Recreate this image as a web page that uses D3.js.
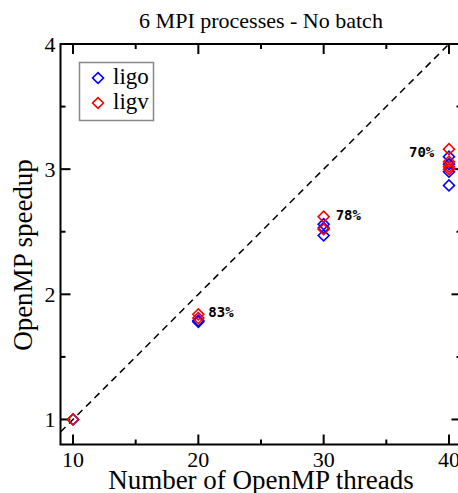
<!DOCTYPE html>
<html lang="en">
  <head>
    <meta charset="utf-8">
    <title>6 MPI processes - No batch</title>
    <script type="text/javascript" src="https://d3js.org/d3.v7.min.js" charset="utf-8"></script>
    <style type="text/css">
      body { margin: 0; background: white; }
      text { font-family: "Liberation Serif", "Times New Roman", serif; fill: black; }
      .pct { font-family: "DejaVu Sans Mono", monospace; font-weight: bold; font-size: 14px; }
    </style>
  </head>
  <body>
<script type="text/javascript">

// data
var threads = [10, 20, 30, 40];
var ligo = [
  {x: 10, y: 1.0},
  {x: 20, y: 1.78}, {x: 20, y: 1.79},
  {x: 30, y: 2.47}, {x: 30, y: 2.53}, {x: 30, y: 2.56},
  {x: 40, y: 2.87}, {x: 40, y: 2.98}, {x: 40, y: 3.04}, {x: 40, y: 3.10}
];
var ligv = [
  {x: 10, y: 1.0},
  {x: 20, y: 1.81}, {x: 20, y: 1.84},
  {x: 30, y: 2.52}, {x: 30, y: 2.62},
  {x: 40, y: 3.0}, {x: 40, y: 3.02}, {x: 40, y: 3.06}, {x: 40, y: 3.16}
];
var efficiency = [
  {x: 20, y: 1.84, label: "83%"},
  {x: 30, y: 2.62, label: "78%"},
  {x: 40, y: 3.16, label: "70%"}
];
var ideal = [{x: 9, y: 0.9}, {x: 40, y: 4}];
var xTicks = [10, 20, 30, 40];
var yTicks = [1, 2, 3, 4];

var W = 458, H = 493;
var m = {left: 60.5, right: 461.5, top: 44, bottom: 444.5};

var svg = d3.select("body").append("svg")
    .attr("width", W)
    .attr("height", H);

var x = d3.scaleLinear().domain([9, 41]).range([m.left, m.right]);
var y = d3.scaleLinear().domain([0.8, 4]).range([m.bottom, m.top]);

// ideal speedup line
svg.append("path")
    .datum(ideal)
    .attr("d", d3.line().x(d => x(d.x)).y(d => y(d.y)))
    .attr("fill", "none")
    .attr("stroke", "black")
    .attr("stroke-width", 1.5)
    .attr("stroke-dasharray", "7,5");

// ticks on all four sides, pointing inward
var xMinor = d3.range(10, 41, 5);
var yMinor = d3.range(1, 4.01, 0.5);
var g = svg.append("g").attr("stroke", "black").attr("stroke-width", 2);
xMinor.forEach(function(t) {
  var len = (t % 10 === 0) ? 10 : 5;
  g.append("line").attr("x1", x(t)).attr("x2", x(t)).attr("y1", m.bottom).attr("y2", m.bottom - len);
  g.append("line").attr("x1", x(t)).attr("x2", x(t)).attr("y1", m.top).attr("y2", m.top + len);
});
yMinor.forEach(function(t) {
  var len = (t % 1 === 0) ? 10 : 5;
  g.append("line").attr("y1", y(t)).attr("y2", y(t)).attr("x1", m.left).attr("x2", m.left + len);
  g.append("line").attr("y1", y(t)).attr("y2", y(t)).attr("x1", m.right).attr("x2", m.right - len);
});

// frame
svg.append("rect")
    .attr("x", m.left).attr("y", m.top)
    .attr("width", m.right - m.left).attr("height", m.bottom - m.top)
    .attr("fill", "none")
    .attr("stroke", "black")
    .attr("stroke-width", 2);

// tick labels
svg.selectAll(".xt").data(xTicks).join("text")
    .attr("class", "xt")
    .attr("x", d => x(d))
    .attr("y", 467)
    .attr("text-anchor", "middle")
    .attr("font-size", 22)
    .text(d => d);

svg.selectAll(".yt").data(yTicks).join("text")
    .attr("class", "yt")
    .attr("x", m.left - 5)
    .attr("y", d => y(d) + 8)
    .attr("text-anchor", "end")
    .attr("font-size", 22)
    .text(d => d);

// axis titles
svg.append("text")
    .attr("x", (m.left + m.right) / 2)
    .attr("y", 489)
    .attr("text-anchor", "middle")
    .attr("font-size", 27)
    .text("Number of OpenMP threads");

svg.append("text")
    .attr("transform", "translate(32,255) rotate(-90)")
    .attr("text-anchor", "middle")
    .attr("font-size", 27)
    .text("OpenMP speedup");

svg.append("text")
    .attr("x", (m.left + m.right) / 2)
    .attr("y", 28)
    .attr("text-anchor", "middle")
    .attr("font-size", 22)
    .text("6 MPI processes - No batch");

// markers
var diamond = d3.symbol().type(d3.symbolSquare).size(60);
function drawSeries(data, color) {
  svg.append("g").selectAll("path").data(data).join("path")
      .attr("d", diamond)
      .attr("transform", d => "translate(" + x(d.x) + "," + y(d.y) + ") rotate(45)")
      .attr("fill", "none")
      .attr("stroke", color)
      .attr("stroke-width", 1.6);
}
drawSeries(ligo, "#0000ff");
drawSeries(ligv, "#ff0000");

// efficiency labels
svg.selectAll(".pct").data(efficiency).join("text")
    .attr("class", "pct")
    .attr("x", d => d.x === 40 ? x(d.x) - 40 : x(d.x) + (d.x === 30 ? 12 : 10))
    .attr("y", d => y(d.y) + (d.x === 40 ? 8 : 3))
    .text(d => d.label);

// legend
var lg = svg.append("g");
lg.append("rect")
    .attr("x", 79.5).attr("y", 62.5)
    .attr("width", 74).attr("height", 58)
    .attr("fill", "white")
    .attr("stroke", "#888")
    .attr("stroke-width", 1.5);
[["ligo", "#0000ff"], ["ligv", "#ff0000"]].forEach(function(s, i) {
  lg.append("path")
      .attr("d", diamond)
      .attr("transform", "translate(98," + (78 + i * 25) + ") rotate(45)")
      .attr("fill", "none")
      .attr("stroke", s[1])
      .attr("stroke-width", 1.6);
  lg.append("text")
      .attr("x", 113)
      .attr("y", 84 + i * 25)
      .attr("font-size", 23)
      .text(s[0]);
});

</script>
  </body>
</html>
